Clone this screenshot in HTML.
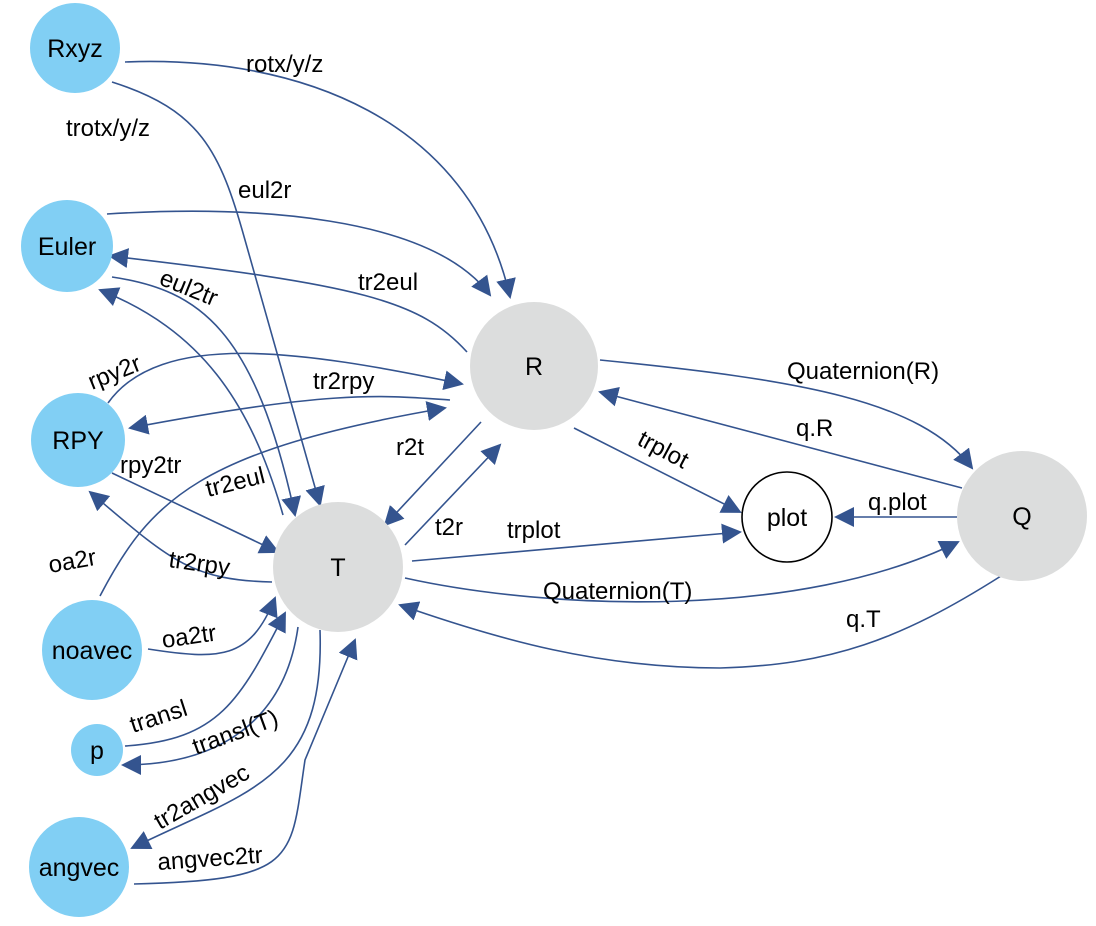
<!DOCTYPE html>
<html><head><meta charset="utf-8"><style>
html,body{margin:0;padding:0;background:#fff}
svg{display:block}
.e{fill:none;stroke:#34548f;stroke-width:1.6}
</style></head><body>
<svg width="1096" height="926" viewBox="0 0 1096 926" xmlns="http://www.w3.org/2000/svg">
<defs><marker id="a" viewBox="0 0 10 10" refX="9" refY="5" markerWidth="20" markerHeight="20" markerUnits="userSpaceOnUse" orient="auto"><path d="M0,0 L10,5 L0,10 z" fill="#34548f"/></marker></defs>
<g class="e" marker-end="url(#a)">
<path d="M125,62 C300,55 470,120 510,297"/>
<path d="M112,82 C200,110 220,150 245,240 L320,505"/>
<path d="M107,214 C250,205 430,215 490,295"/>
<path d="M467,352 C420,300 360,285 110,256"/>
<path d="M112,277 C200,290 255,330 295,515"/>
<path d="M283,515 C250,400 200,330 100,290"/>
<path d="M108,403 C160,330 300,350 462,384"/>
<path d="M450,400 C380,395 330,390 130,428"/>
<path d="M100,596 C150,500 200,450 445,408"/>
<path d="M112,473 L278,552"/>
<path d="M272,582 C190,580 170,560 90,492"/>
<path d="M481,422 L385,525"/>
<path d="M405,545 L500,445"/>
<path d="M412,561 L740,532"/>
<path d="M574,428 L740,512"/>
<path d="M600,360 C800,380 920,400 972,468"/>
<path d="M962,488 L600,392"/>
<path d="M957,517 L836,517"/>
<path d="M405,578 C550,610 800,620 958,542"/>
<path d="M1001,576 C900,640 830,665 720,668 C600,668 500,640 400,605"/>
<path d="M148,649 C220,660 250,660 275,598"/>
<path d="M125,746 C220,740 240,700 285,613"/>
<path d="M298,627 C285,720 220,765 123,765"/>
<path d="M320,630 C325,780 250,790 132,848"/>
<path d="M134,884 C300,880 290,860 305,760 L355,640"/>
</g>
<circle cx="75" cy="48" r="45" fill="#81cff4"/>
<circle cx="67" cy="246" r="46" fill="#81cff4"/>
<circle cx="78" cy="440" r="47" fill="#81cff4"/>
<circle cx="92" cy="650" r="50" fill="#81cff4"/>
<circle cx="97" cy="750" r="26" fill="#81cff4"/>
<circle cx="79" cy="867" r="50" fill="#81cff4"/>
<circle cx="534" cy="366" r="64" fill="#dcdddd"/>
<circle cx="338" cy="567" r="65" fill="#dcdddd"/>
<circle cx="1022" cy="516" r="65" fill="#dcdddd"/>
<circle cx="787" cy="517" r="45" fill="#fff" stroke="#000" stroke-width="1.6"/>
<g font-family="Liberation Sans, DejaVu Sans, sans-serif" font-size="25" text-anchor="middle" fill="#000">
<text x="75" y="57">Rxyz</text>
<text x="67" y="255">Euler</text>
<text x="78" y="449">RPY</text>
<text x="92" y="659">noavec</text>
<text x="97" y="759">p</text>
<text x="79" y="876">angvec</text>
<text x="534" y="375">R</text>
<text x="338" y="576">T</text>
<text x="1022" y="525">Q</text>
<text x="787" y="526">plot</text>
</g>
<g font-family="Liberation Sans, DejaVu Sans, sans-serif" font-size="24" fill="#000">
<text x="246" y="72">rotx/y/z</text>
<text x="66" y="136">trotx/y/z</text>
<text x="238" y="198">eul2r</text>
<text x="358" y="290">tr2eul</text>
<text x="158" y="284" transform="rotate(22 158 284)">eul2tr</text>
<text x="208" y="497" transform="rotate(-14 208 497)">tr2eul</text>
<text x="92" y="390" transform="rotate(-22 92 390)">rpy2r</text>
<text x="313" y="389">tr2rpy</text>
<text x="396" y="455">r2t</text>
<text x="120" y="473">rpy2tr</text>
<text x="168" y="567" transform="rotate(8 168 567)">tr2rpy</text>
<text x="50" y="573" transform="rotate(-10 50 573)">oa2r</text>
<text x="435" y="535">t2r</text>
<text x="507" y="538">trplot</text>
<text x="636" y="444" transform="rotate(28 636 444)">trplot</text>
<text x="787" y="379">Quaternion(R)</text>
<text x="796" y="436">q.R</text>
<text x="868" y="510">q.plot</text>
<text x="543" y="599">Quaternion(T)</text>
<text x="846" y="627">q.T</text>
<text x="163" y="648" transform="rotate(-8 163 648)">oa2tr</text>
<text x="133" y="733" transform="rotate(-18 133 733)">transl</text>
<text x="196" y="755" transform="rotate(-20 196 755)">transl(T)</text>
<text x="160" y="830" transform="rotate(-30 160 830)">tr2angvec</text>
<text x="158" y="870" transform="rotate(-4 158 870)">angvec2tr</text>
</g>
</svg>
</body></html>
